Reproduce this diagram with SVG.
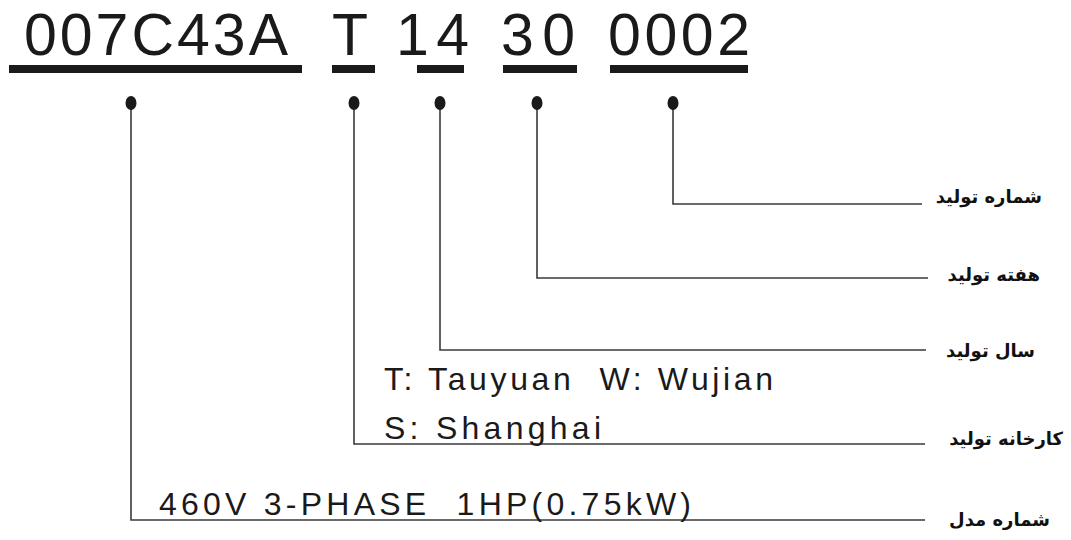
<svg xmlns="http://www.w3.org/2000/svg" width="1071" height="540" viewBox="0 0 1071 540">
<style>
.code{font-family:"Liberation Sans",Arial,sans-serif;font-size:59px;fill:#1a1a1a}
.info{font-family:"Liberation Sans Narrow","Liberation Sans",Arial,sans-serif;font-size:32px;fill:#1a1a1a;white-space:pre}
.fa{font-family:"DejaVu Sans","Noto Sans",sans-serif;font-size:18px;font-weight:bold;fill:#111;text-anchor:end}
.bar{fill:#1a1a1a}
.dot{fill:#1a1a1a}
.conn{fill:none;stroke:#3a3a3a;stroke-width:1.6}
</style>
<rect width="1071" height="540" fill="#fff"/>
<g id="code">
<text class="code" x="24" y="55" textLength="264">007C43A</text>
<text class="code" x="332" y="55">T</text>
<text class="code" x="396" y="55" textLength="73">14</text>
<text class="code" x="501" y="55" textLength="74">30</text>
<text class="code" x="608" y="55" textLength="142">0002</text>
<rect class="bar" x="9" y="65" width="293" height="8"/>
<rect class="bar" x="332" y="65" width="43" height="8"/>
<rect class="bar" x="417" y="65" width="47" height="8"/>
<rect class="bar" x="503" y="65" width="74" height="8"/>
<rect class="bar" x="610" y="65" width="138" height="8"/>
</g>
<g id="connectors">
<path class="conn" d="M673 103 V204 H922"/>
<path class="conn" d="M537 103 V278 H928"/>
<path class="conn" d="M440 103 V350 H926"/>
<path class="conn" d="M354 103 V444 H925"/>
<path class="conn" d="M131 103 V520 H925"/>
<ellipse class="dot" cx="673" cy="103" rx="5.5" ry="7"/>
<ellipse class="dot" cx="537" cy="103" rx="5.5" ry="7"/>
<ellipse class="dot" cx="440" cy="103" rx="5.5" ry="7"/>
<ellipse class="dot" cx="354" cy="103" rx="5.5" ry="7"/>
<ellipse class="dot" cx="131" cy="103" rx="5.5" ry="7"/>
</g>
<g id="serial-number"><text class="fa" x="1042" y="203">شماره تولید</text></g>
<g id="week"><text class="fa" x="1040" y="281">هفته تولید</text></g>
<g id="year"><text class="fa" x="1035" y="357">سال تولید</text></g>
<g id="factory">
<text class="fa" x="1063" y="445">کارخانه تولید</text>
<text class="info" x="384" y="390" textLength="389">T: Tauyuan  W: Wujian</text>
<text class="info" x="384" y="439" textLength="217">S: Shanghai</text>
</g>
<g id="model">
<text class="fa" x="1050" y="526">شماره مدل</text>
<text class="info" x="159" y="515" textLength="532">460V 3-PHASE  1HP(0.75kW)</text>
</g>
</svg>
